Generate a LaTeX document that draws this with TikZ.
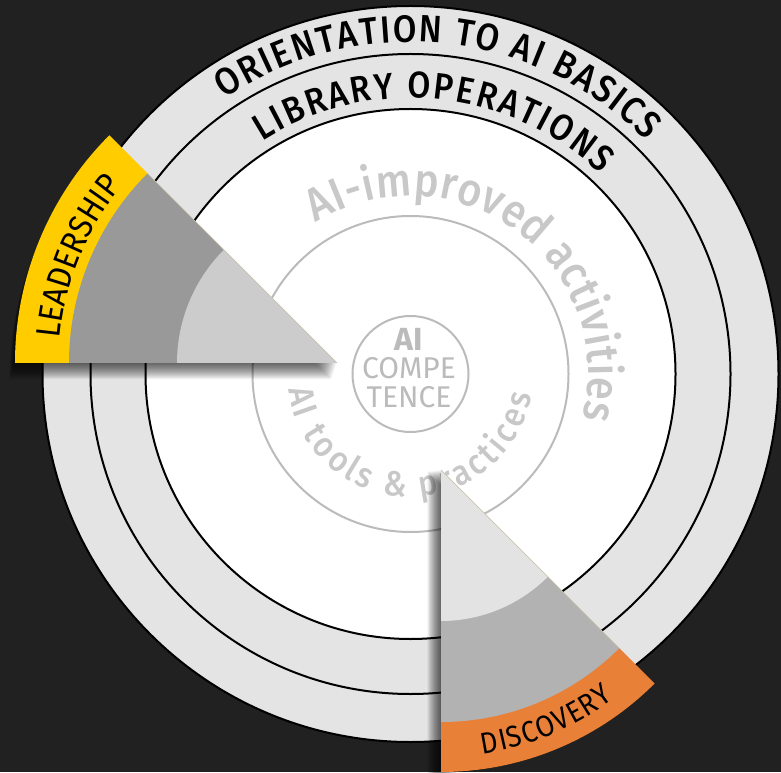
\documentclass[tikz,border=0pt]{standalone}
\usepackage{fontspec}
\setmainfont{Fira Sans}[FakeStretch=0.9]
\newfontfamily\midface{Fira Sans Medium}[FakeStretch=0.9]
\newfontfamily\plainface{Fira Sans}
\newfontfamily\boldface{Fira Sans}[UprightFont=*-Bold]
\usetikzlibrary{decorations.text}
\definecolor{pagebg}{HTML}{212121}
\definecolor{ringfill}{HTML}{E4E4E4}
\definecolor{softline}{HTML}{BBBBBB}
\definecolor{softtext}{HTML}{C8C8C8}
\definecolor{leadcol}{HTML}{FFCC00}
\definecolor{leadmid}{HTML}{999999}
\definecolor{leadin}{HTML}{CCCCCC}
\definecolor{disccol}{HTML}{E98037}
\definecolor{discmid}{HTML}{B2B2B2}
\definecolor{discin}{HTML}{E3E3E3}
\definecolor{edgecol}{HTML}{C9C2AE}
\newcommand\ringfont{\fontsize{38}{38}\selectfont\midface}
\newcommand\libfont{\fontsize{37}{37}\selectfont\midface}
\newcommand\bigfont{\fontsize{46}{46}\selectfont\midface\color{softtext}}
\newcommand\toolfont{\fontsize{35}{35}\selectfont\midface\color{softtext}}
\newcommand\leadfont{\fontsize{34}{34}\selectfont}
\newcommand\discfont{\fontsize{30}{30}\selectfont}
\newcommand\sector[4]{(#1) -- ([shift={(#1)}]#2:#4) arc[start angle=#2,end angle=#3,radius=#4] -- cycle}
\tikzset{
  x=1pt,y=1pt,
  ringline/.style={draw=black,line width=2pt},
  softring/.style={draw=softline,line width=2pt},
  curved/.style={decorate,decoration={text along path,text align=fit to path,text={#1}}},
  centertext/.style={text=softline,inner sep=0pt,anchor=center,font=\fontsize{30}{30}\selectfont\plainface},
}
\begin{document}
\begin{tikzpicture}
\fill[pagebg] (0,0) rectangle (781,772);
\useasboundingbox (0,0) rectangle (781,772);
\coordinate (c) at (410.5,398);
\coordinate (apexA) at (337,409);
\coordinate (apexB) at (441,302);
% rings
\filldraw[ringline,fill=ringfill] (c) circle[radius=368];
\filldraw[ringline,fill=ringfill] (c) circle[radius=320];
\filldraw[ringline,fill=white] (c) circle[radius=265];
\draw[softring] (c) circle[radius=158];
\draw[softring] (c) circle[radius=58];
% curved labels
\path[curved={|\ringfont|ORIENTATION TO AI BASICS}] ([shift={(c)}]124:332) arc[start angle=124,end angle=44.7,radius=332];
\path[curved={|\libfont|LIBRARY OPERATIONS}] ([shift={(c)}]122.5:276) arc[start angle=122.5,end angle=46.5,radius=276];
\path[curved={|\bigfont|AI-improved activities}] ([shift={(c)}]122:178) arc[start angle=122,end angle=-14.5,radius=178];
\path[curved={|\toolfont|AI tools {\&} practices}] ([shift={(c)}]187:123) arc[start angle=187,end angle=350,radius=123];
% centre
\node[centertext,font=\fontsize{32}{32}\selectfont\boldface] (ai) at (409,433) {AI};
\node[centertext] (compe) at (409,404) {COMPE};
\node[centertext] (tence) at (409,375) {TENCE};
% shadows
\foreach \i in {1,...,16}{
  \begin{scope}[transform canvas={shift={(-\i*.35,-\i*1)}}]
  \fill[black,opacity=.05] \sector{apexA}{180}{135}{322};
  \end{scope}
}
\foreach \i in {1,...,16}{
  \begin{scope}[transform canvas={shift={(-\i*.85,-\i*.1)}}]
  \fill[black,opacity=.05] \sector{apexB}{-90}{-45}{302};
  \end{scope}
}
% leadership wedge
\fill[leadcol] \sector{apexA}{180}{135}{322};
\fill[leadmid] \sector{apexA}{180}{135}{268};
\fill[leadin] \sector{apexA}{180}{135}{160};
\draw[edgecol,line width=.5pt] (apexA) -- ([shift={(apexA)}]135:268);
\path[curved={|\leadfont|LEADERSHIP}] ([shift={(apexA)}]175:278) arc[start angle=175,end angle=140.5,radius=278];
% discovery wedge
\fill[disccol] \sector{apexB}{-90}{-45}{302};
\fill[discmid] \sector{apexB}{-90}{-45}{252};
\fill[discin] \sector{apexB}{-90}{-45}{151};
\draw[edgecol,line width=.5pt] (apexB) -- ([shift={(apexB)}]-45:252);
\path[curved={|\discfont|DISCOVERY}] ([shift={(apexB)}]-81.6:287) arc[start angle=-81.6,end angle=-53,radius=287];
\end{tikzpicture}
\end{document}
